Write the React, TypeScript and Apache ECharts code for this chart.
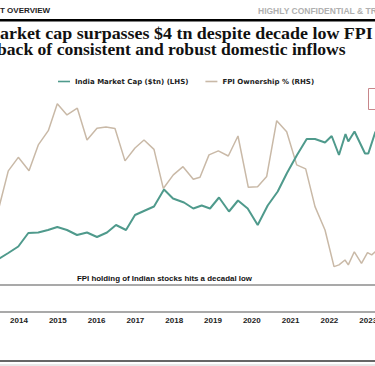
import React, { useEffect, useRef } from "react";
import * as echarts from "echarts";

// Year tick labels on the x axis
const yearTicks = [2013, 2014, 2015, 2016, 2017, 2018, 2019, 2020, 2021, 2022, 2023, 2024];

// India market cap ($tn), dates as decimal years
const mcapDates = [
  2013.474, 2013.724, 2013.982, 2014.24, 2014.497, 2014.747, 2014.987, 2015.237, 2015.495, 2015.753,
  2016.01, 2016.268, 2016.5, 2016.758, 2016.99, 2017.247, 2017.479, 2017.737, 2017.969, 2018.253,
  2018.492, 2018.709, 2018.923, 2019.155, 2019.412, 2019.644, 2019.894, 2020.152, 2020.41, 2020.668,
  2020.907, 2021.165, 2021.415, 2021.629, 2021.887, 2022.059, 2022.247, 2022.415, 2022.487, 2022.647,
  2022.918, 2023.003, 2023.175, 2023.253,
];
const mcapValues = [
  1.12, 1.24, 1.37, 1.64, 1.65, 1.7, 1.76, 1.7, 1.6, 1.65,
  1.56, 1.65, 1.8, 1.7, 2.0, 2.09, 2.17, 2.51, 2.33, 2.25,
  2.13, 2.19, 2.13, 2.35, 2.07, 2.29, 2.13, 1.8, 2.19, 2.47,
  2.84, 3.2, 3.52, 3.52, 3.45, 3.58, 3.2, 3.62, 3.47, 3.67,
  3.23, 3.23, 3.64, 3.76,
];

// FPI ownership (%), dates as decimal years
const fpiDates = [
  2013.474, 2013.724, 2013.982, 2014.258, 2014.497, 2014.755, 2014.987, 2015.237, 2015.503, 2015.753,
  2016.01, 2016.242, 2016.474, 2016.732, 2016.99, 2017.222, 2017.479, 2017.719, 2017.977, 2018.227,
  2018.492, 2018.665, 2018.897, 2019.137, 2019.394, 2019.644, 2019.91, 2020.149, 2020.384, 2020.642,
  2020.899, 2021.157, 2021.389, 2021.629, 2021.887, 2022.119, 2022.247, 2022.402, 2022.487, 2022.642,
  2022.827, 2022.982, 2023.09, 2023.175, 2023.253,
];
const fpiValues = [
  18.65, 20.36, 20.97, 20.37, 21.53, 22.17, 23.38, 22.88, 23.18, 21.75,
  22.28, 22.34, 22.27, 20.81, 21.39, 21.75, 21.33, 19.57, 20.18, 20.55,
  19.98, 20.07, 21.08, 21.26, 21.03, 21.93, 19.62, 19.65, 20.11, 22.62,
  22.12, 20.63, 20.45, 18.75, 17.7, 16.05, 16.13, 16.35, 16.13, 16.72,
  16.2, 16.68, 16.58, 16.71, 16.8,
];

const SANS = "'Liberation Sans', Arial, sans-serif";
const LEG = "'DejaVu Sans', Verdana, sans-serif";
const SERIF = "'Liberation Serif', 'Times New Roman', serif";

export default function App() {
  const ref = useRef<HTMLDivElement>(null);

  useEffect(() => {
    if (!ref.current) return;
    const chart = echarts.init(ref.current, undefined, { renderer: "svg" });
    const option: any = {
      animation: false,
      backgroundColor: "#ffffff",
      legend: {
        left: 53,
        top: 73,
        icon: "rect",
        itemWidth: 12,
        itemHeight: 1.6,
        itemGap: 17,
        textStyle: { fontFamily: LEG, fontWeight: "bold", fontSize: 7, color: "#222" },
        data: ["India Market Cap ($tn) (LHS)", "FPI Ownership % (RHS)"],
      },
      grid: {
        left: -19.8,
        width: 426.8,
        top: 90,
        height: 200,
        containLabel: false,
        outerBoundsMode: "none",
      },
      xAxis: {
        type: "value",
        min: yearTicks[0],
        max: yearTicks[yearTicks.length - 1],
        interval: 1,
        axisLine: { show: false },
        axisTick: { show: false },
        splitLine: { show: false },
        axisLabel: {
          margin: 26,
          showMinLabel: false,
          showMaxLabel: false,
          fontFamily: SANS,
          fontWeight: "bold",
          fontSize: 8,
          color: "#222",
          formatter: (v: number) => String(v),
        },
      },
      yAxis: [
        { type: "value", min: 0.5, max: 4.5, show: false, splitLine: { show: false } },
        { type: "value", min: 15, max: 24, show: false, splitLine: { show: false } },
      ],
      series: [
        {
          name: "India Market Cap ($tn) (LHS)",
          type: "line",
          yAxisIndex: 0,
          symbol: "none",
          lineStyle: { color: "#4f9a8c", width: 2 },
          itemStyle: { color: "#4f9a8c" },
          data: mcapDates.map((d, i) => [d, mcapValues[i]]),
          z: 3,
        },
        {
          name: "FPI Ownership % (RHS)",
          type: "line",
          yAxisIndex: 1,
          symbol: "none",
          lineStyle: { color: "#c9b9a7", width: 1.5 },
          itemStyle: { color: "#c9b9a7" },
          data: fpiDates.map((d, i) => [d, fpiValues[i]]),
          z: 2,
        },
      ],
      graphic: [
        {
          type: "text",
          left: 0,
          top: 6,
          style: { text: "T OVERVIEW", font: `bold 8px ${SANS}`, fill: "#222" },
        },
        {
          type: "text",
          x: 258,
          y: 11,
          style: { text: "HIGHLY CONFIDENTIAL & TR", font: `bold 8.5px ${SANS}`, fill: "#b0b0b0", verticalAlign: "middle" },
        },
        { type: "rect", shape: { x: 0, y: 19, width: 375, height: 2.5 }, style: { fill: "#000" } },
        {
          type: "text",
          x: 0,
          y: 33,
          scaleX: 1.02,
          style: {
            text: "arket cap surpasses $4 tn despite decade low FPI",
            font: `bold 17.6px ${SERIF}`,
            lineHeight: 16,
            fill: "#111",
            verticalAlign: "middle",
          },
        },
        {
          type: "text",
          x: -3,
          y: 49,
          style: {
            text: "back of consistent and robust domestic inflows",
            font: `bold 17.6px ${SERIF}`,
            lineHeight: 16,
            fill: "#111",
            verticalAlign: "middle",
          },
        },
        {
          type: "rect",
          shape: { x: 368.5, y: 88.5, width: 20, height: 21 },
          style: { fill: "none", stroke: "#c7868a", lineWidth: 1 },
        },
        {
          type: "text",
          x: 77,
          y: 278,
          style: {
            text: "FPI holding of Indian stocks hits a decadal low",
            font: `bold 7.9px ${SANS}`,
            fill: "#111",
            verticalAlign: "middle",
          },
        },
        { type: "line", shape: { x1: 0, y1: 285, x2: 375, y2: 285 }, style: { stroke: "#8c8c8c", lineWidth: 1.5 } },
        { type: "line", shape: { x1: 0, y1: 312, x2: 375, y2: 312 }, style: { stroke: "#8c8c8c", lineWidth: 1.5 } },
        { type: "line", shape: { x1: 0, y1: 361, x2: 375, y2: 361 }, style: { stroke: "#666", lineWidth: 2 } },
        { type: "line", shape: { x1: 0, y1: 365, x2: 375, y2: 365 }, style: { stroke: "#d0d0d0", lineWidth: 1 } },
      ],
    };
    chart.setOption(option);
    return () => chart.dispose();
  }, []);

  return <div ref={ref} style={{ position: "absolute", left: 0, top: 0, width: 375, height: 366 }} />;
}
